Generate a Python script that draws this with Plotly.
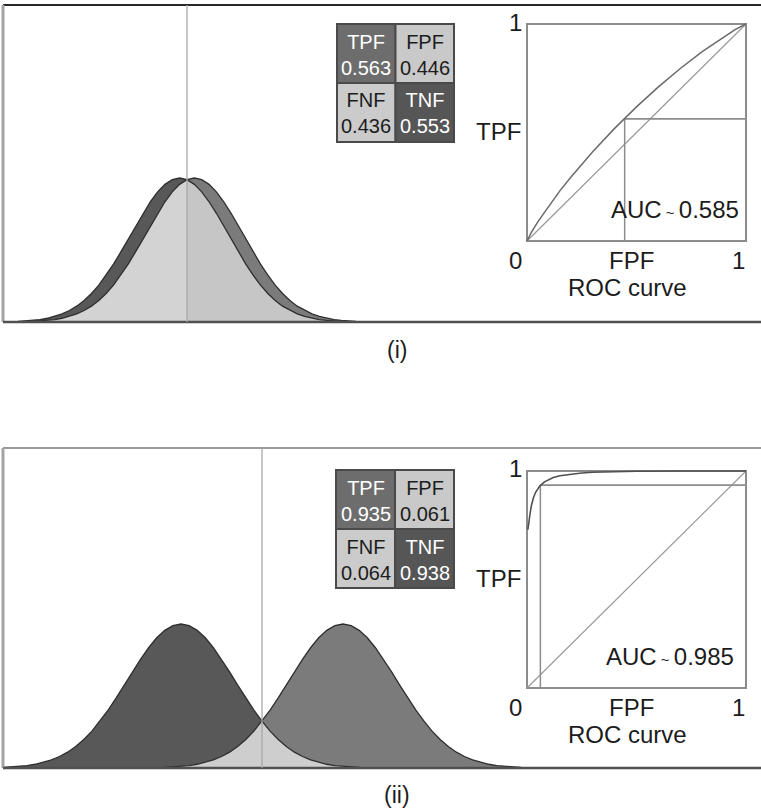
import plotly.graph_objects as go

# ---------------------------------------------------------------- data ----
# Relative height of a class score density, sampled every 0.15 sd from its mean
BELL = [1.000, 0.989, 0.956, 0.904, 0.835, 0.755, 0.667, 0.576, 0.487, 0.402,
        0.325, 0.256, 0.198, 0.149, 0.110, 0.080, 0.056, 0.039, 0.026, 0.017,
        0.011, 0.007, 0.004]
STEP = 0.15

# Class means (sd units, decision threshold at 0): negative class, positive class
MEANS_I = [-0.15, 0.15]
MEANS_II = [-1.5, 1.5]

CELL_LABELS = [["TPF", "FPF"], ["FNF", "TNF"]]
CELL_VALUES_I = [["0.563", "0.446"], ["0.436", "0.553"]]
CELL_VALUES_II = [["0.935", "0.061"], ["0.064", "0.938"]]

AUC_I = "0.585"
AUC_II = "0.985"

ROC_FPF_I = [0, 0.01, 0.02, 0.05, 0.1, 0.15, 0.2, 0.3, 0.4, 0.5, 0.6, 0.7,
             0.8, 0.9, 0.95, 1.0]
ROC_TPF_I = [0, 0.021, 0.040, 0.089, 0.163, 0.231, 0.294, 0.411, 0.519,
             0.618, 0.710, 0.795, 0.873, 0.943, 0.974, 1.0]

ROC_FPF_II = [0.004, 0.007, 0.01, 0.015, 0.02, 0.03, 0.04, 0.05, 0.06, 0.08,
              0.1, 0.12, 0.15, 0.2, 0.25, 0.3, 0.4, 0.5, 0.7, 1.0]
ROC_TPF_II = [0.73, 0.76, 0.78, 0.811, 0.840, 0.879, 0.903, 0.920, 0.933,
              0.950, 0.962, 0.970, 0.978, 0.986, 0.991, 0.994, 0.997, 0.999,
              1.0, 1.0]

PANEL_TAGS = ["(i)", "(ii)"]

# -------------------------------------------------------------- layout ----
W, H = 761, 808
FONT = "Liberation Sans, Arial, sans-serif"
INK = "#1c1c1c"


def px(x):
    return x / W


def py(y):
    return 1 - y / H


# per panel geometry (pixels)
PANELS = [
    dict(top=5, base=322, thr=187, sd=49, roc=(527, 746, 24, 241),
         cells=(337, 454, 24, 142), dy=0, tag_y=350),
    dict(top=448, base=768, thr=262, sd=54, roc=(527, 746, 471, 688),
         cells=(336, 454, 470, 588), dy=447, tag_y=795),
]

NEG_FILL = "#585858"
POS_FILL = "#7b7b7b"
EDGE = "#2e2e2e"


def build_curves(means):
    n = len(BELL) - 1
    lo = round(min(means) / STEP) - n
    hi = round(max(means) / STEP) + n
    idx = list(range(lo, hi + 1))
    xs = [i * STEP for i in idx]
    curves = []
    for m in means:
        c = round(m / STEP)
        ys = [BELL[abs(i - c)] if abs(i - c) <= n else 0.0 for i in idx]
        keep = [k for k, i in enumerate(idx) if abs(i - c) <= n]
        curves.append((xs, ys, keep))
    return xs, curves


fig = go.Figure()
shapes = []
annotations = []

roc_sets = [(ROC_FPF_I, ROC_TPF_I), (ROC_FPF_II, ROC_TPF_II)]
roc_line = [dict(color="#6a6a6a", width=1.5), dict(color="#505050", width=1.6)]
cell_sets = [CELL_VALUES_I, CELL_VALUES_II]
auc_set = [AUC_I, AUC_II]
means_set = [MEANS_I, MEANS_II]
overlap_colours = [("#d3d3d3", "#c6c6c6"), ("#cecece", "#cecece")]

for p, P in enumerate(PANELS):
    dist_ax = 2 * p + 1
    roc_ax = 2 * p + 2
    xa = "x" if dist_ax == 1 else f"x{dist_ax}"
    ya = "y" if dist_ax == 1 else f"y{dist_ax}"
    xr = f"x{roc_ax}"
    yr = f"y{roc_ax}"

    # ---- class densities
    xs, curves = build_curves(means_set[p])
    fills = [NEG_FILL, POS_FILL]
    for (cx, cy, keep), col in zip(curves, fills):
        fig.add_trace(go.Scatter(
            x=[cx[k] for k in keep], y=[cy[k] for k in keep], xaxis=xa,
            yaxis=ya, mode="lines", fill="tozeroy", fillcolor=col,
            line=dict(width=0), hoverinfo="skip"))
    neg, pos = curves[0][1], curves[1][1]
    both = [min(a, b) for a, b in zip(neg, pos)]
    left = [k for k, x in enumerate(xs) if x <= 1e-9]
    right = [k for k, x in enumerate(xs) if x >= -1e-9]
    for part, col in zip((left, right), overlap_colours[p]):
        fig.add_trace(go.Scatter(
            x=[xs[k] for k in part], y=[both[k] for k in part], xaxis=xa,
            yaxis=ya, mode="lines", fill="tozeroy", fillcolor=col,
            line=dict(width=0), hoverinfo="skip"))
    for cx, cy, keep in curves:
        fig.add_trace(go.Scatter(
            x=[cx[k] for k in keep], y=[cy[k] for k in keep], xaxis=xa,
            yaxis=ya, mode="lines", line=dict(color=EDGE, width=1.3),
            hoverinfo="skip"))

    # ---- ROC curve
    fpf, tpf = roc_sets[p]
    fig.add_trace(go.Scatter(
        x=fpf, y=tpf, xaxis=xr, yaxis=yr, mode="lines",
        line=roc_line[p], hoverinfo="skip"))

    op_tpf = float(cell_sets[p][0][0])
    op_fpf = float(cell_sets[p][0][1])
    grey = "#8c8c8c"
    shapes += [
        dict(type="rect", xref=xr, yref=yr, x0=0, x1=1, y0=0, y1=1,
             line=dict(color=grey, width=2), layer="below"),
        dict(type="line", xref=xr, yref=yr, x0=0, y0=0, x1=1, y1=1,
             line=dict(color="#9a9a9a", width=1.2), layer="below"),
        dict(type="line", xref=xr, yref=yr, x0=op_fpf, y0=0, x1=op_fpf,
             y1=op_tpf, line=dict(color=grey, width=1.5), layer="below"),
        dict(type="line", xref=xr, yref=yr, x0=op_fpf, y0=op_tpf, x1=1,
             y1=op_tpf, line=dict(color=grey, width=1.8), layer="below"),
    ]

    # ---- axes
    top, base, thr, sd = P["top"], P["base"], P["thr"], P["sd"]
    dist_domain_y = [py(base), py(top)]
    x_range = [(0 - thr) / sd, (W - thr) / sd]
    y_range = [0, (base - top) / 144.0]
    rx0, rx1, ry0, ry1 = P["roc"]
    pad = 0.05
    ux = rx1 - rx0
    uy = ry1 - ry0
    roc_dom_x = [px(rx0 - pad * ux), px(rx1 + pad * ux)]
    roc_dom_y = [py(ry1 + pad * uy), py(ry0 - pad * uy)]
    axis_common = dict(visible=False, fixedrange=True)
    key_x = "xaxis" if dist_ax == 1 else f"xaxis{dist_ax}"
    key_y = "yaxis" if dist_ax == 1 else f"yaxis{dist_ax}"
    fig.update_layout(**{
        key_x: dict(domain=[0, 1], range=x_range, anchor=ya, **axis_common),
        key_y: dict(domain=dist_domain_y, range=y_range, anchor=xa,
                    **axis_common),
        f"xaxis{roc_ax}": dict(domain=roc_dom_x, range=[-pad, 1 + pad],
                               anchor=yr, **axis_common),
        f"yaxis{roc_ax}": dict(domain=roc_dom_y, range=[-pad, 1 + pad],
                               anchor=xr, **axis_common),
    })

    # ---- panel frame and threshold
    top_col = "#262626" if p == 0 else "#9a9a9a"
    shapes += [
        dict(type="line", xref="paper", yref="paper", x0=px(3), x1=px(W),
             y0=py(top), y1=py(top), line=dict(color=top_col, width=2)),
        dict(type="line", xref="paper", yref="paper", x0=px(3), x1=px(3),
             y0=py(top), y1=py(base), line=dict(color="#a3a3a3", width=3)),
        dict(type="line", xref="paper", yref="paper", x0=px(3), x1=px(W),
             y0=py(base), y1=py(base), line=dict(color="#505050", width=2.5)),
        dict(type="line", xref="paper", yref="paper", x0=px(thr), x1=px(thr),
             y0=py(top), y1=py(base), line=dict(color="#a8a8a8", width=1.3)),
    ]

    # ---- 2x2 fraction table
    cx0, cx1, cy0, cy1 = P["cells"]
    cw = (cx1 - cx0) / 2
    ch = (cy1 - cy0) / 2
    cell_fill = [["#6d6d6d", "#c9c9c9"], ["#cbcbcb", "#565656"]]
    cell_ink = [["white", INK], [INK, "white"]]
    for r in range(2):
        for c in range(2):
            x0 = cx0 + c * cw
            y0 = cy0 + r * ch
            shapes.append(dict(
                type="rect", xref="paper", yref="paper", x0=px(x0),
                x1=px(x0 + cw), y0=py(y0 + ch), y1=py(y0),
                fillcolor=cell_fill[r][c], line=dict(color="#4a4a4a", width=2)))
            annotations.append(dict(
                x=px(x0 + cw / 2), y=py(y0 + ch / 2 + 1), xref="paper",
                yref="paper",
                text=f"{CELL_LABELS[r][c]}<br>{cell_sets[p][r][c]}",
                showarrow=False, xanchor="center", yanchor="middle",
                borderpad=0,
                font=dict(family=FONT, size=20, color=cell_ink[r][c])))

    # ---- ROC labels
    dy = P["dy"]
    labels = [("1", 515, 22), ("TPF", 498, 131), ("0", 515, 260),
              ("FPF", 631, 260), ("1", 738, 260), ("ROC curve", 627, 287)]
    for txt, lx, ly in labels:
        annotations.append(dict(
            x=px(lx), y=py(ly + dy), xref="paper", yref="paper", text=txt,
            showarrow=False, xanchor="center", yanchor="middle",
            font=dict(family=FONT, size=24, color=INK)))
    annotations.append(dict(
        x=px(741 - 5 * p), y=py(209 + dy), xref="paper", yref="paper",
        text=f"AUC<span style='font-size:15px'> ~ </span>{auc_set[p]}",
        showarrow=False, xanchor="right", yanchor="middle",
        font=dict(family=FONT, size=24, color=INK)))

    # ---- panel tag
    annotations.append(dict(
        x=px(397), y=py(P["tag_y"]), xref="paper", yref="paper",
        text=PANEL_TAGS[p], showarrow=False, xanchor="center",
        yanchor="middle", font=dict(family=FONT, size=23, color=INK)))

fig.update_layout(
    width=W, height=H, margin=dict(l=0, r=0, t=0, b=0),
    paper_bgcolor="white", plot_bgcolor="rgba(0,0,0,0)",
    showlegend=False, shapes=shapes, annotations=annotations)

fig.write_html("out.html")
